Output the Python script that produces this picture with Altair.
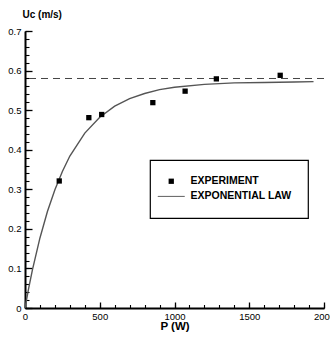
import altair as alt
import pandas as pd

# experiment points
exp_power = [229, 427, 513, 855, 1071, 1280, 1707]
exp_velocity = [0.321, 0.481, 0.489, 0.519, 0.548, 0.579, 0.588]

# exponential law curve
law_power = [0, 25, 50, 100, 150, 200, 250, 300, 400, 500, 600, 700, 800, 900,
             1000, 1200, 1400, 1600, 1800, 1930]
law_velocity = [0.0, 0.051, 0.097, 0.177, 0.244, 0.299, 0.345, 0.384, 0.442, 0.482,
                0.510, 0.529, 0.542, 0.552, 0.558, 0.565, 0.569, 0.570, 0.571, 0.572]

asymptote = [0.58]
series_names = ["EXPERIMENT", "EXPONENTIAL LAW"]
x_major = list(range(0, 2001, 500))
x_minor = list(range(0, 2001, 100))
y_major = [round(i * 0.1, 1) for i in range(8)]
y_minor = [round(i * 0.02, 2) for i in range(36)]

FONT = "Liberation Sans"
PLOT_H = 277

df_pts = pd.DataFrame({"P": exp_power, "U": exp_velocity, "series": series_names[0]})
df_law = pd.DataFrame({"P": law_power, "U": law_velocity})
df_asym = pd.DataFrame({"U": asymptote})

xscale = alt.Scale(domain=[0, 2000], nice=False, zero=False)
yscale = alt.Scale(domain=[0, 0.7], nice=False, zero=False)


def x_tick_dash(length, gap=1000):
    # x-grid lines run from the top edge down to the axis: shift the dash to the axis end
    return dict(gridDash=[length, gap], gridDashOffset=length + gap - PLOT_H + length)


xaxis_major = alt.Axis(
    orient="bottom",
    values=x_major,
    format="d",
    labelOverlap=False,
    ticks=False,
    grid=True,
    gridColor="black",
    gridOpacity=1,
    gridWidth=1.3,
    **x_tick_dash(6),
    domainColor="black",
    domainWidth=2,
    labelFont=FONT,
    labelFontSize=9.5,
    labelColor="black",
    labelPadding=3,
    labelFlush=False,
    title="P (W)",
    titleFont=FONT,
    titleFontSize=11.5,
    titleFontWeight="bold",
    titleColor="black",
    titlePadding=0,
)

xaxis_minor = alt.Axis(
    orient="bottom",
    values=x_minor,
    labels=False,
    ticks=False,
    domain=False,
    title=None,
    grid=True,
    gridColor="black",
    gridOpacity=1,
    gridWidth=1.1,
    **x_tick_dash(3.5),
)

yaxis_major = alt.Axis(
    orient="left",
    values=y_major,
    labelExpr="datum.value == 0 ? '0' : format(datum.value, '.1f')",
    labelOverlap=False,
    ticks=False,
    grid=True,
    gridColor="black",
    gridOpacity=1,
    gridWidth=1.3,
    gridDash=[7, 1000],
    domainColor="black",
    domainWidth=2,
    labelFont=FONT,
    labelFontSize=9.5,
    labelColor="black",
    labelPadding=4,
    labelFlush=False,
    title="Uc (m/s)",
    titleFont=FONT,
    titleFontSize=10,
    titleFontWeight="bold",
    titleColor="black",
    titleAngle=0,
    titleAlign="left",
    titleBaseline="alphabetic",
    titleX=-3,
    titleY=-14,
)

yaxis_minor = alt.Axis(
    orient="left",
    values=y_minor,
    labels=False,
    ticks=False,
    domain=False,
    title=None,
    grid=True,
    gridColor="black",
    gridOpacity=1,
    gridWidth=1.1,
    gridDash=[4, 1000],
)

rule = alt.Chart(df_asym).mark_rule(color="#444", strokeWidth=1, strokeDash=[7, 5]).encode(
    y=alt.Y("U:Q", scale=yscale, axis=None)
)

line = alt.Chart(df_law).mark_line(color="#555", strokeWidth=1.4).encode(
    x=alt.X("P:Q", scale=xscale, axis=xaxis_minor),
    y=alt.Y("U:Q", scale=yscale, axis=yaxis_minor),
)

points = alt.Chart(df_pts).mark_point(
    filled=True, size=28, fill="black", opacity=1
).encode(
    x=alt.X("P:Q", scale=xscale, axis=xaxis_major),
    y=alt.Y("U:Q", scale=yscale, axis=yaxis_major),
    shape=alt.Shape(
        "series:N",
        scale=alt.Scale(domain=series_names,
                        range=["square", "M-5.1,-0.12H5.1V0.12H-5.1Z"]),
        legend=alt.Legend(
            title=None,
            orient="none",
            legendX=125,
            legendY=129,
            strokeColor="black",
            padding=16,
            labelFont=FONT,
            labelFontSize=10.5,
            labelFontWeight="bold",
            labelColor="black",
            labelOffset=14,
            rowPadding=4,
            symbolSize=28,
            symbolFillColor="black",
            symbolOpacity=1,
        ),
    ),
)

chart = alt.layer(rule, line, points).resolve_axis(
    x="independent", y="independent"
).properties(
    width=299,
    height=PLOT_H,
    autosize=alt.AutoSizeParams(type="none"),
    padding={"left": 25, "top": 31, "right": 6, "bottom": 31},
).configure_view(stroke=None).configure_legend(strokeWidth=1.2)

chart.save("out.html", embed_options={"renderer": "svg", "actions": False})
